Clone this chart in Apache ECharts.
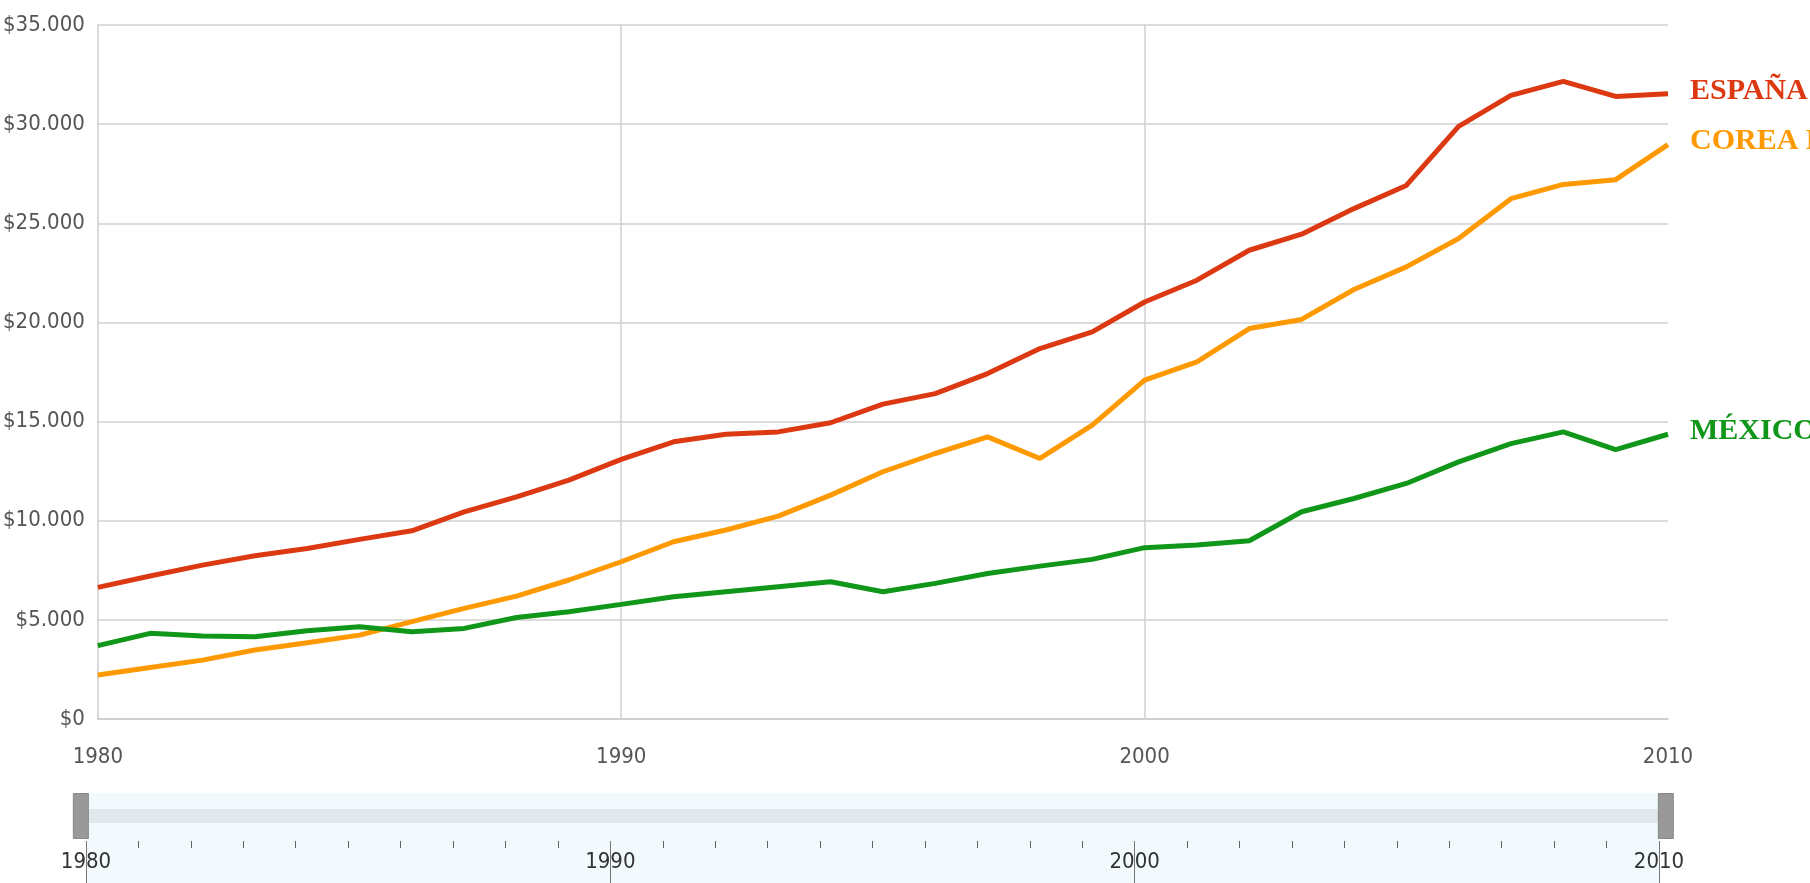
<!DOCTYPE html>
<html>
<head>
<meta charset="utf-8">
<script src="https://cdn.jsdelivr.net/npm/echarts@6/dist/echarts.min.js"></script>
<style>
  html, body { margin: 0; padding: 0; background: #fff; }
  #chart { width: 1810px; height: 883px; }
</style>
</head>
<body>
<div id="chart"></div>
<script>
// PIB per cápita, 1980-2010
const years = [1980, 1981, 1982, 1983, 1984, 1985, 1986, 1987, 1988, 1989, 1990,
  1991, 1992, 1993, 1994, 1995, 1996, 1997, 1998, 1999, 2000,
  2001, 2002, 2003, 2004, 2005, 2006, 2007, 2008, 2009, 2010]

const espana = [6640, 7210, 7760, 8230, 8600, 9060, 9490, 10450, 11200, 12050, 13090,
  13980, 14360, 14480, 14940, 15880, 16410, 17420, 18680, 19520, 21030,
  22130, 23640, 24450, 25740, 26910, 29890, 31450, 32160, 31400, 31530]

const corea = [2220, 2600, 2970, 3480, 3850, 4230, 4910, 5580, 6200, 7010, 7930,
  8940, 9530, 10230, 11290, 12470, 13390, 14230, 13140, 14820, 17090,
  18010, 19690, 20150, 21660, 22800, 24230, 26240, 26960, 27200, 28970]

const mexico = [3700, 4320, 4180, 4150, 4450, 4650, 4400, 4570, 5120, 5410, 5780,
  6170, 6420, 6670, 6920, 6420, 6840, 7340, 7710, 8050, 8640,
  8770, 8990, 10450, 11120, 11880, 12970, 13890, 14480, 13590, 14360]

const seriesNames = ['ESPAÑA', 'COREA DEL SUR', 'MÉXICO']
const seriesColors = ['#dc3912', '#ff9900', '#109618']

const narrow = "'Liberation Sans Narrow', 'DejaVu Sans Condensed', 'Roboto Condensed', sans-serif"

const money = (v) => '$' + String(v).replace(/\B(?=(\d{3})+(?!\d))/g, '.')

const makeSeries = (name, values, color) => {
  return {
    name: name,
    type: 'line',
    xAxisIndex: 0,
    yAxisIndex: 0,
    symbol: 'none',
    smooth: false,
    data: years.map((y, i) => [y, values[i]]),
    lineStyle: { color: color, width: 5 },
    itemStyle: { color: color },
    endLabel: {
      show: true,
      formatter: name,
      color: color,
      fontFamily: "'Liberation Serif', 'DejaVu Serif', serif",
      fontWeight: 'bold',
      fontSize: 30,
      distance: 22,
      offset: [0, -3],
    },
  }
}

var myChart = echarts.init(document.getElementById('chart'))
window.onresize = function () {
  myChart.resize()
}

var option = {
  animation: false,
  backgroundColor: '#fff',
  grid: [
    { left: 96, right: 142, top: 25, height: 694 },
    {
      left: 86, right: 151, top: 793, height: 90,
      show: true, backgroundColor: '#f2fafd', borderWidth: 0,
    },
  ],
  xAxis: [
    {
      type: 'value',
      gridIndex: 0,
      min: 1980,
      max: 2010,
      interval: 10,
      axisLine: { show: true, lineStyle: { color: '#ccc', width: 1.5 } },
      axisTick: { show: false },
      axisLabel: {
        color: '#555',
        fontFamily: narrow,
        fontSize: 22,
        margin: 27,
        formatter: (v) => String(v),
      },
      splitLine: {
        show: true,
        showMinLine: false,
        showMaxLine: false,
        lineStyle: { color: '#d0d0d0', width: 1.5 },
      },
    },
    {
      type: 'value',
      gridIndex: 1,
      position: 'top',
      offset: -48,
      min: 1980,
      max: 2010,
      interval: 10,
      axisLine: { show: false },
      axisTick: { show: true, inside: true, length: 42, lineStyle: { color: '#777', width: 1 } },
      minorTick: { show: true, splitNumber: 10, length: 7, lineStyle: { color: '#666', width: 1 } },
      axisLabel: {
        inside: true,
        color: '#333',
        fontFamily: narrow,
        fontSize: 22,
        margin: 10,
        formatter: (v) => String(v),
      },
      splitLine: { show: false },
    },
  ],
  yAxis: [
    {
      type: 'value',
      gridIndex: 0,
      min: 0,
      max: 35000,
      interval: 5000,
      axisLine: { show: true, lineStyle: { color: '#ccc', width: 1.5 } },
      axisTick: { show: false },
      axisLabel: {
        color: '#555',
        fontFamily: narrow,
        fontSize: 22,
        margin: 13,
        formatter: money,
      },
      splitLine: { show: true, lineStyle: { color: '#d0d0d0', width: 1.5 } },
    },
    {
      type: 'value',
      gridIndex: 1,
      show: false,
    },
  ],
  dataZoom: [
    {
      type: 'slider',
      xAxisIndex: 0,
      filterMode: 'none',
      start: 0,
      end: 100,
      left: 79,
      right: 144,
      top: 809,
      height: 14,
      backgroundColor: 'transparent',
      borderColor: 'transparent',
      fillerColor: '#e1e9ec',
      showDataShadow: false,
      showDetail: false,
      brushSelect: false,
      moveHandleSize: 0,
      handleIcon: 'path://M0,0L1,0L1,3L0,3Z',
      handleSize: 45,
      handleStyle: { color: '#999', borderColor: '#888', borderWidth: 1 },
      emphasis: { handleStyle: { color: '#999', borderColor: '#888' } },
    },
  ],
  series: [
    makeSeries(seriesNames[0], espana, seriesColors[0]),
    makeSeries(seriesNames[1], corea, seriesColors[1]),
    makeSeries(seriesNames[2], mexico, seriesColors[2]),
  ],
}

myChart.setOption(option)
</script>
</body>
</html>
